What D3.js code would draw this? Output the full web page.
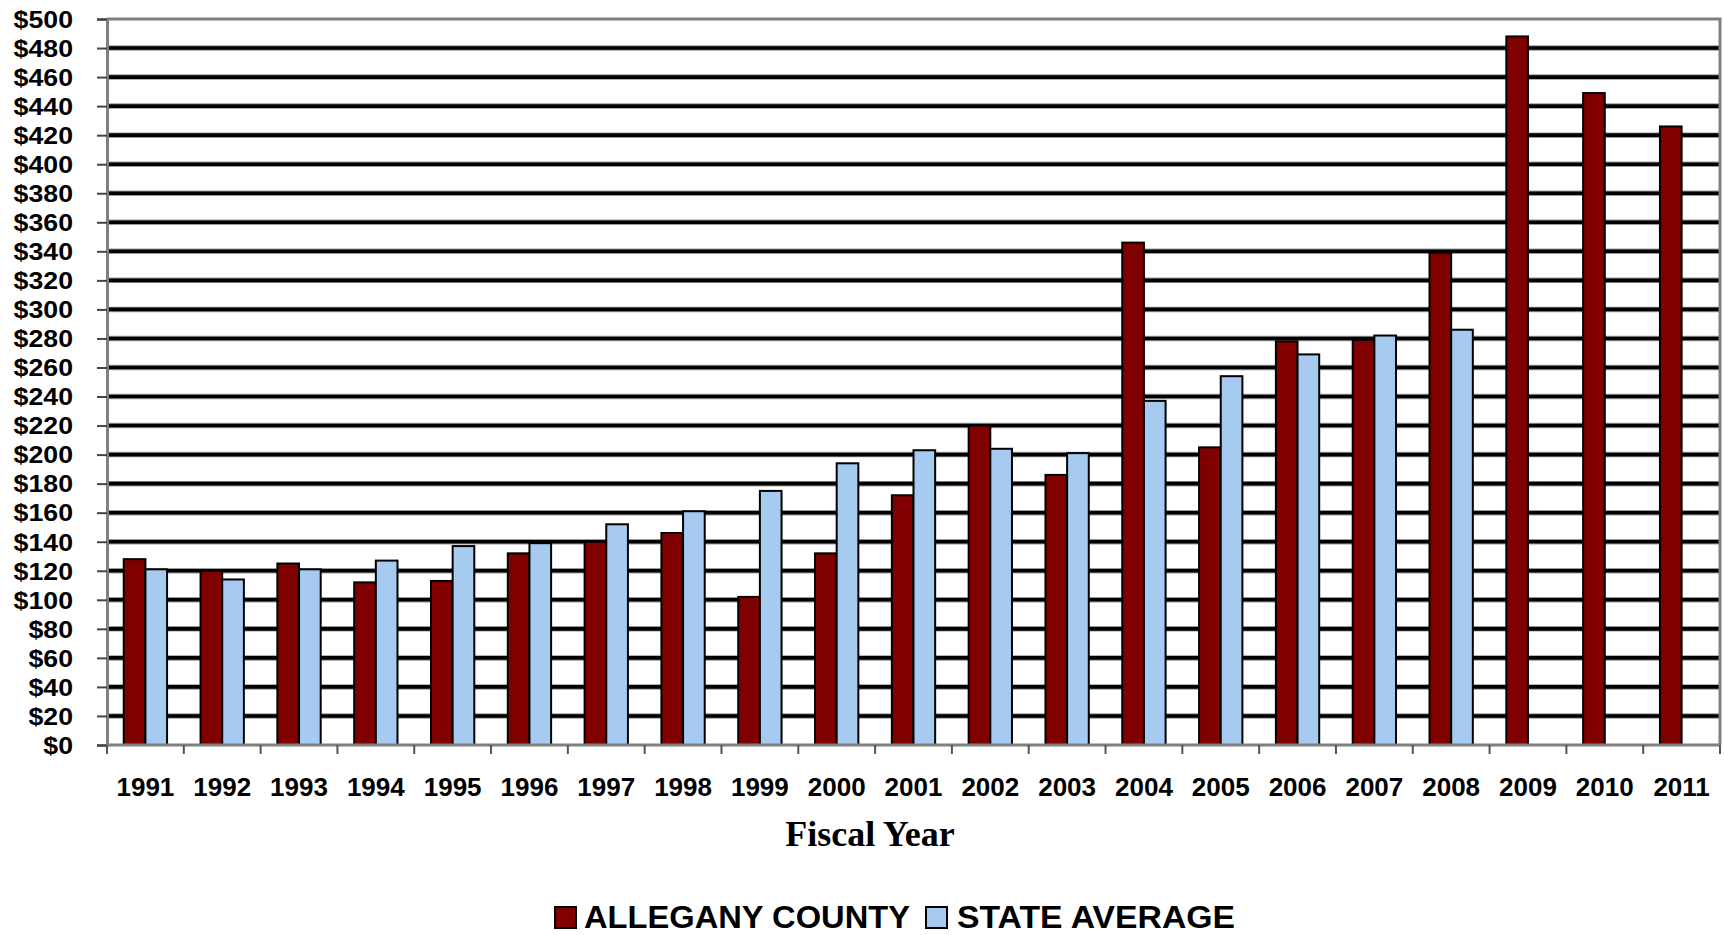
<!DOCTYPE html>
<html>
<head>
<meta charset="utf-8">
<script src="https://cdn.jsdelivr.net/npm/d3@7/dist/d3.min.js"></script>
<style>
  html, body { margin: 0; padding: 0; background: #fff; }
  svg { display: block; }
</style>
</head>
<body>
<svg id="chart" width="1724" height="935"></svg>
<script>
// Per-capita spending by fiscal year: Allegany County vs. the state average
const years = ["1991","1992","1993","1994","1995","1996","1997","1998","1999","2000",
               "2001","2002","2003","2004","2005","2006","2007","2008","2009","2010","2011"];
const allegany = [128,120,125,112,113,132,140,146,102,132,172,220,186,346,205,278,279,339,488,449,426];
const stateAverage = [121,114,121,127,137,139,152,161,175,194,203,204,201,237,254,269,282,286,null,null,null];
const seriesNames = ["ALLEGANY COUNTY", "STATE AVERAGE"];
const seriesColors = ["#800000", "#A6CAF0"];
const yTicks = d3.range(0, 501, 20);
const xTitle = "Fiscal Year";

const svg = d3.select("#chart");
const plot = { left: 107, right: 1720, top: 19, bottom: 745 };

const y = d3.scaleLinear().domain([0, 500]).range([plot.bottom, plot.top]);
const x0 = d3.scaleBand().domain(years).range([plot.left, plot.right])
  .paddingInner(0.436).paddingOuter(0.218);
const x1 = d3.scaleBand().domain(seriesNames).range([0, x0.bandwidth()]).padding(0);

// Horizontal gridlines (heavy black with a soft grey edge)
const grid = svg.append("g");
const gridTicks = yTicks.filter(v => v > 0 && v < 500);
grid.selectAll("line.halo").data(gridTicks).join("line")
  .attr("x1", plot.left).attr("x2", plot.right)
  .attr("y1", d => y(d)).attr("y2", d => y(d))
  .attr("stroke", "#9a9a9a").attr("stroke-width", 5.5);
grid.selectAll("line.core").data(gridTicks).join("line")
  .attr("x1", plot.left).attr("x2", plot.right)
  .attr("y1", d => y(d)).attr("y2", d => y(d))
  .attr("stroke", "#000").attr("stroke-width", 3.6);

// Bars
const rows = years.map((yr, i) => ({ year: yr, values: [allegany[i], stateAverage[i]] }));
const groups = svg.append("g").selectAll("g").data(rows).join("g")
  .attr("transform", d => `translate(${x0(d.year)},0)`);
groups.selectAll("rect")
  .data(d => d.values.map((v, k) => ({ key: seriesNames[k], value: v, k })).filter(e => e.value != null))
  .join("rect")
  .attr("x", d => x1(d.key))
  .attr("width", x1.bandwidth())
  .attr("y", d => y(d.value))
  .attr("height", d => y(0) - y(d.value))
  .attr("fill", d => seriesColors[d.k])
  .attr("stroke", "#000")
  .attr("stroke-width", 2);

// Plot frame: top and right border
svg.append("path")
  .attr("d", `M${plot.left},${plot.top}H${plot.right}V${plot.bottom}`)
  .attr("fill", "none").attr("stroke", "#808080").attr("stroke-width", 3);

// Y axis
const yAxis = svg.append("g").attr("transform", `translate(${plot.left},0)`)
  .call(d3.axisLeft(y).tickValues(yTicks).tickSize(10).tickFormat(""));
yAxis.select(".domain").attr("stroke", "#808080").attr("stroke-width", 3);
yAxis.selectAll(".tick line").attr("stroke", "#444").attr("stroke-width", 2);

svg.append("g").selectAll("text").data(yTicks).join("text")
  .attr("transform", d => `translate(73,${y(d) + 8.8}) scale(1.09,1)`)
  .attr("text-anchor", "end")
  .attr("font-family", "'Liberation Sans', Arial, sans-serif")
  .attr("font-weight", "bold")
  .attr("font-size", 24.5)
  .attr("fill", "#000")
  .text(d => "$" + d);

// X axis: tick marks at category boundaries
const boundaries = d3.range(years.length + 1).map(i => plot.left + i * x0.step());
const xAxis = svg.append("g");
xAxis.append("line")
  .attr("x1", plot.left).attr("x2", plot.right)
  .attr("y1", plot.bottom).attr("y2", plot.bottom)
  .attr("stroke", "#808080").attr("stroke-width", 3);
xAxis.selectAll("line.tick").data(boundaries).join("line")
  .attr("x1", d => d).attr("x2", d => d)
  .attr("y1", plot.bottom).attr("y2", plot.bottom + 9)
  .attr("stroke", "#555").attr("stroke-width", 2);
xAxis.selectAll("text").data(years).join("text")
  .attr("x", d => x0(d) + x0.bandwidth() / 2)
  .attr("y", 796)
  .attr("text-anchor", "middle")
  .attr("font-family", "'Liberation Sans', Arial, sans-serif")
  .attr("font-weight", "bold")
  .attr("font-size", 26)
  .attr("fill", "#000")
  .text(d => d);

// Axis title
svg.append("text")
  .attr("x", 870).attr("y", 846)
  .attr("text-anchor", "middle")
  .attr("font-family", "'Liberation Serif', 'Times New Roman', serif")
  .attr("font-weight", "bold")
  .attr("font-size", 36)
  .attr("fill", "#000")
  .text(xTitle);

// Legend
const legendItems = [
  { name: seriesNames[0], color: seriesColors[0], sx: 555, tx: 584, len: 326 },
  { name: seriesNames[1], color: seriesColors[1], sx: 926, tx: 957, len: 278 }
];
const legend = svg.append("g");
legend.selectAll("rect").data(legendItems).join("rect")
  .attr("x", d => d.sx).attr("y", 907)
  .attr("width", 21).attr("height", 21)
  .attr("fill", d => d.color)
  .attr("stroke", "#000").attr("stroke-width", 2);
legend.selectAll("text").data(legendItems).join("text")
  .attr("x", d => d.tx).attr("y", 928)
  .attr("font-family", "'Liberation Sans', Arial, sans-serif")
  .attr("font-weight", "bold")
  .attr("font-size", 31)
  .attr("fill", "#000")
  .attr("textLength", d => d.len)
  .attr("lengthAdjust", "spacingAndGlyphs")
  .text(d => d.name);
</script>
</body>
</html>
